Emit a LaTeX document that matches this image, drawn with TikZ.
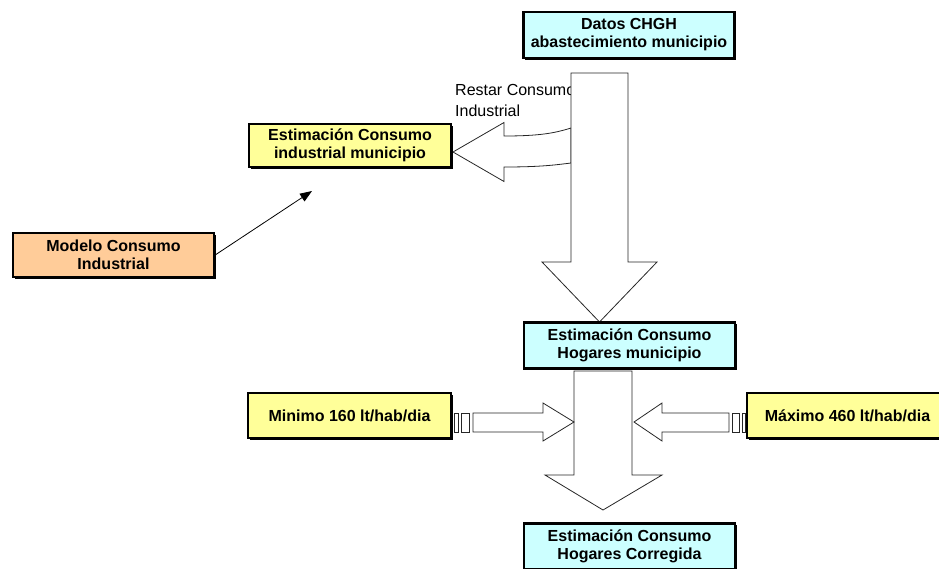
\documentclass[tikz,border=0pt]{standalone}
\usepackage{fontspec}
\setmainfont{Liberation Sans}
\usetikzlibrary{arrows.meta,positioning,shadows}

\definecolor{aqua}{HTML}{CCFFFF}
\definecolor{lemon}{HTML}{FFFF99}
\definecolor{peach}{HTML}{FFCC99}

\tikzset{
  box/.style={draw, line width=2.3pt, align=center, inner sep=0pt,
    font=\bfseries\fontsize{16}{18}\selectfont,
    drop shadow={fill=black, opacity=1, shadow xshift=1.5pt, shadow yshift=-1.5pt}},
  wide/.style={box, minimum width=211pt, minimum height=46pt},
  blk/.style={draw=black!85, fill=white, line width=0.8pt, line join=miter}
}

\begin{document}
\begin{tikzpicture}[x=1pt,y=-1pt]
  \useasboundingbox (0,0) rectangle (939,568);

  \node[anchor=base west, align=left, inner sep=0pt,
        font=\fontsize{16}{21}\selectfont] (restar) at (455,116) {Restar Consumo\\Industrial};

  % flechas de bloque
  \coordinate (resttip) at (453,152);
  \draw[blk] (resttip) -- (504,122.5) -- (504,136)
    .. controls (540,136) and (555,133) .. (571,128) -- (571,163)
    .. controls (555,165) and (540,167) .. (504,167) -- (504,181.5) -- cycle;

  \draw[blk] (571,73) -- (628,73) -- (628,262) -- (657,262) -- (599.5,322)
    -- (542,262) -- (571,262) -- cycle;

  \draw[blk] (574,371) -- (632,371) -- (632,475) -- (662,475) -- (603,510)
    -- (545,475) -- (574,475) -- cycle;

  \draw[blk] (454,413) rectangle (458,432);
  \draw[blk] (461,413) rectangle (469,432);
  \draw[blk] (473,413) -- (543,413) -- (543,403) -- (574,422) -- (543,441)
    -- (543,432) -- (473,432) -- cycle;

  \draw[blk] (634,422) -- (662,403) -- (662,413) -- (729,413) -- (729,432)
    -- (662,432) -- (662,441) -- cycle;
  \draw[blk] (732,413) rectangle (739,432);
  \draw[blk] (742,413) rectangle (745,432);

  % cajas
  \node[wide, fill=aqua] (datos) at (629,35) {Datos CHGH\\abastecimiento municipio};
  \node[box, fill=lemon, minimum width=202pt, minimum height=43pt] (indus) at (350,145.5)
    {Estimación Consumo\\industrial municipio};
  \node[box, fill=peach, minimum width=201pt, minimum height=44pt] (modelo) at (113.5,255)
    {Modelo Consumo\\Industrial};
  \node[wide, fill=aqua] (hogares) at (629.5,345.5) {Estimación Consumo\\Hogares municipio};
  \node[wide, fill=aqua] (correg) at (629.5,546.5) {Estimación Consumo\\Hogares Corregida};
  \node[box, fill=lemon, minimum width=203pt, minimum height=45pt] (minimo) at (349.5,415.5)
    {Minimo 160 lt/hab/dia};
  \node[box, fill=lemon, minimum width=201pt, minimum height=45pt] (maximo) at (847.5,415.5)
    {Máximo 460 lt/hab/dia};

  \coordinate (modtip) at (312,191);
  \draw[line width=0.8pt, -{Triangle[length=12pt,width=9pt]}] (modelo.east) -- (modtip);

\end{tikzpicture}
\end{document}
